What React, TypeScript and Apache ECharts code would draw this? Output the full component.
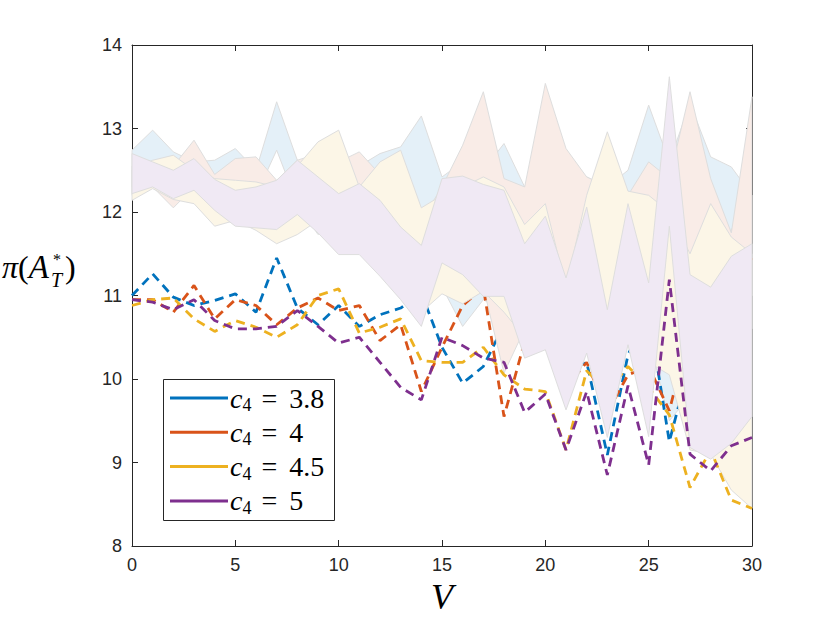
import React, { useEffect, useRef } from "react";
import * as echarts from "echarts";

// x values (V)
const V = [0, 1, 2, 3, 4, 5, 6, 7, 8, 9, 10, 11, 12, 13, 14, 15, 16, 17, 18, 19, 20, 21, 22, 23, 24, 25, 26, 27, 28, 29, 30];

// mean lines
const L38 = [11.00, 11.26, 10.98, 10.88, 10.94, 11.02, 10.80, 11.45, 10.85, 10.65, 10.88, 10.63, 10.77, 10.85, 11.03, 10.38, 9.95, 10.15, 10.65, 10.43, 10.45, 10.10, 10.20, 9.09, 10.29, 10.80, 9.25, 10.20, 10.40, 10.70, 10.90];
const L40 = [10.95, 10.95, 10.80, 11.12, 10.72, 10.95, 10.88, 10.65, 10.85, 10.97, 10.82, 10.88, 10.46, 10.65, 9.85, 10.38, 10.88, 11.10, 9.55, 10.45, 10.40, 9.90, 10.20, 9.60, 10.05, 10.15, 9.62, 10.60, 10.80, 11.20, 11.45];
const L45 = [10.88, 10.95, 10.97, 10.72, 10.57, 10.70, 10.62, 10.50, 10.65, 11.00, 11.08, 10.55, 10.62, 10.72, 10.22, 10.20, 10.20, 10.38, 10.05, 9.88, 9.85, 9.15, 10.10, 9.85, 10.15, 9.90, 9.57, 8.70, 9.15, 8.55, 8.45];
const L50 = [10.95, 10.92, 10.83, 10.95, 10.70, 10.60, 10.60, 10.63, 10.82, 10.63, 10.43, 10.50, 10.20, 9.90, 9.75, 10.50, 10.40, 10.25, 10.20, 9.60, 9.82, 9.15, 9.85, 8.85, 9.92, 8.97, 11.19, 9.10, 8.90, 9.20, 9.30];

// bands (lower / upper)
const B38_lo = [12.30, 12.40, 12.30, 12.30, 12.20, 12.20, 12.20, 12.74, 12.10, 11.73, 11.90, 11.80, 11.60, 11.50, 11.30, 11.10, 10.63, 10.95, 10.80, 10.70, 10.60, 10.40, 10.50, 10.20, 10.40, 10.50, 9.50, 9.80, 10.70, 11.80, 11.00];
const B38_hi = [12.74, 12.98, 12.72, 12.60, 12.62, 12.76, 12.50, 13.32, 12.62, 12.45, 12.50, 12.55, 12.70, 12.78, 13.15, 12.42, 12.60, 12.50, 12.82, 12.30, 12.70, 12.50, 12.42, 12.30, 12.50, 13.28, 12.60, 13.30, 12.66, 12.54, 12.20];
const B40_lo = [12.20, 12.30, 12.05, 12.30, 12.10, 12.00, 11.90, 11.90, 12.00, 11.90, 11.70, 11.60, 11.40, 11.10, 10.90, 11.20, 10.90, 11.10, 10.07, 10.60, 10.60, 10.00, 10.60, 9.90, 10.50, 11.30, 10.60, 10.50, 10.40, 10.50, 10.60];
const B40_hi = [12.55, 12.60, 12.55, 12.86, 12.45, 12.64, 12.66, 12.38, 12.62, 12.70, 12.60, 12.72, 12.45, 12.60, 11.90, 12.30, 12.80, 13.44, 12.40, 12.30, 13.54, 12.76, 12.42, 12.30, 12.20, 12.60, 12.40, 13.44, 12.40, 11.75, 13.38];
const B45_lo = [12.14, 12.28, 12.15, 12.10, 11.83, 11.90, 11.78, 11.62, 11.73, 11.90, 11.60, 11.60, 11.50, 11.20, 10.80, 11.02, 10.90, 11.05, 10.80, 10.50, 10.60, 9.90, 10.50, 9.50, 10.60, 10.20, 10.05, 9.15, 9.10, 8.67, 8.45];
const B45_hi = [12.50, 12.62, 12.68, 12.50, 12.40, 12.38, 12.36, 12.30, 12.55, 12.84, 12.98, 12.30, 12.60, 12.74, 12.05, 12.20, 12.30, 12.42, 12.30, 11.85, 12.10, 11.10, 12.20, 12.96, 12.25, 12.20, 12.00, 11.50, 12.10, 11.70, 11.50];
const B50_lo = [12.22, 12.30, 12.16, 12.26, 12.02, 11.83, 11.81, 11.79, 11.97, 11.75, 11.49, 11.49, 11.23, 10.95, 10.63, 11.39, 11.25, 10.99, 10.99, 10.25, 10.35, 9.63, 10.31, 9.30, 10.41, 9.31, 11.83, 9.18, 9.04, 9.23, 9.55];
const B50_hi = [12.70, 12.60, 12.50, 12.64, 12.39, 12.26, 12.30, 12.38, 12.62, 12.42, 12.22, 12.34, 12.14, 11.82, 11.60, 12.40, 12.43, 12.33, 12.26, 11.62, 11.95, 11.21, 12.06, 10.83, 12.10, 11.15, 13.62, 11.25, 11.10, 11.47, 11.62];

const NAMES = ["3.8", "4", "4.5", "5"];
const X_TICKS = [0, 5, 10, 15, 20, 25, 30];
const Y_TICKS = [8, 9, 10, 11, 12, 13, 14];

const LINE_COLORS = ["#0072BD", "#D95319", "#EDB120", "#7E2F8E"];
const BAND_COLORS = ["#e4f0f8", "#f9ece7", "#fcf6e7", "#f0e9f4"];
const EDGE = "#dedede";
const AX = "#262626";
const SERIF = '"Liberation Serif", "DejaVu Serif", serif';

export default function App() {
  const ref = useRef<HTMLDivElement>(null);
  useEffect(() => {
    document.body.style.margin = "0";
    if (!ref.current) return;
    const chart = echarts.init(ref.current, undefined, { renderer: "svg" });
    const lines = [L38, L40, L45, L50];
    const bands = [
      [B38_lo, B38_hi],
      [B40_lo, B40_hi],
      [B45_lo, B45_hi],
      [B50_lo, B50_hi],
    ];
    const series: any[] = [];
    for (let i = 0; i < 4; i++) {
      const [lo, hi] = bands[i];
      series.push({
        type: "custom",
        name: "band" + i,
        silent: true,
        data: V.map((v, j) => [v, lo[j], hi[j]]),
        encode: { x: 0, y: [1, 2] },
        z: 2 + 2 * i,
        renderItem: (params: any, api: any) => {
          if (params.dataIndex !== 0) return null;
          const top = V.map((v, j) => api.coord([v, hi[j]]));
          const bot = V.map((v, j) => api.coord([v, lo[j]])).reverse();
          return {
            type: "polygon",
            shape: { points: top.concat(bot) },
            style: { fill: BAND_COLORS[i], stroke: EDGE, lineWidth: 1 },
          };
        },
      });
      series.push({
        type: "line",
        name: NAMES[i],
        data: V.map((v, j) => [v, lines[i][j]]),
        symbol: "none",
        showSymbol: false,
        lineStyle: { color: LINE_COLORS[i], width: 2.8, type: [9, 6] },
        itemStyle: { color: LINE_COLORS[i] },
        z: 3 + 2 * i,
      });
    }

    const axisCommon = {
      axisLine: { show: true, onZero: false, lineStyle: { color: AX, width: 1 } },
      axisTick: { show: true, inside: true, length: 6, lineStyle: { color: AX } },
      splitLine: { show: false },
    };

    const legendTexts = NAMES.map((n, i) => ({
      type: "text",
      z: 21,
      x: 230,
      y: 398 + i * 34.3,
      style: {
        text: `{cc|c}{sb|4}{eq|=}{nv|${n}}`,
        verticalAlign: "middle",
        rich: {
          cc: { fontFamily: SERIF, fontStyle: "italic", fontSize: 28, lineHeight: 32, fill: "#000" },
          sb: { fontFamily: SERIF, fontSize: 18, lineHeight: 20, verticalAlign: "bottom", fill: "#000" },
          eq: { fontFamily: SERIF, fontSize: 28, lineHeight: 32, padding: [0, 12, 0, 10], fill: "#000" },
          nv: { fontFamily: SERIF, fontSize: 28, lineHeight: 32, fill: "#000" },
        },
      },
    }));

    chart.setOption({
      animation: false,
      grid: { left: 132, right: 78, top: 45, bottom: 77, containLabel: false },
      xAxis: [
        {
          type: "value",
          min: X_TICKS[0],
          max: X_TICKS[X_TICKS.length - 1],
          interval: 5,
          position: "bottom",
          ...axisCommon,
          axisLabel: { color: AX, fontSize: 18, fontFamily: "Liberation Sans", margin: 10 },
          name: "V",
          nameLocation: "middle",
          nameGap: 30,
          nameTextStyle: { fontFamily: SERIF, fontStyle: "italic", fontSize: 36, color: "#000" },
        },
        {
          type: "value",
          min: X_TICKS[0],
          max: X_TICKS[X_TICKS.length - 1],
          interval: 5,
          position: "top",
          ...axisCommon,
          axisLabel: { show: false },
        },
      ],
      yAxis: [
        {
          type: "value",
          min: Y_TICKS[0],
          max: Y_TICKS[Y_TICKS.length - 1],
          interval: 1,
          position: "left",
          ...axisCommon,
          axisLabel: { color: AX, fontSize: 18, fontFamily: "Liberation Sans", margin: 10 },
        },
        {
          type: "value",
          min: Y_TICKS[0],
          max: Y_TICKS[Y_TICKS.length - 1],
          interval: 1,
          position: "right",
          ...axisCommon,
          axisLabel: { show: false },
        },
      ],
      legend: {
        data: NAMES.map((n, i) => ({ name: n, icon: "rect", itemStyle: { color: LINE_COLORS[i] } })),
        orient: "vertical",
        left: 170,
        top: 383,
        itemWidth: 58,
        itemHeight: 3,
        itemGap: 4.3,
        selectedMode: false,
        z: 20,
        padding: 0,
        formatter: () => " ",
        textStyle: { fontSize: 12, lineHeight: 30 },
      },
      graphic: [
        {
          type: "rect",
          z: 19,
          shape: { x: 163.5, y: 379.5, width: 171, height: 141 },
          style: { fill: "#fff", stroke: AX, lineWidth: 1 },
        },
        ...legendTexts,
        {
          type: "text",
          x: 2,
          y: 267,
          style: {
            text: "{p|π}{o|(}{a|A}",
            verticalAlign: "middle",
            rich: {
              p: { fontFamily: SERIF, fontStyle: "italic", fontSize: 32, fill: "#000" },
              o: { fontFamily: SERIF, fontSize: 32, fill: "#000" },
              a: { fontFamily: SERIF, fontStyle: "italic", fontSize: 33, fill: "#000" },
            },
          },
        },
        { type: "text", x: 53, y: 259, style: { text: "*", font: '16px "Liberation Serif"', fill: "#000", verticalAlign: "middle" } },
        { type: "text", x: 51, y: 279.5, style: { text: "T", font: 'italic 20px "Liberation Serif"', fill: "#000", verticalAlign: "middle" } },
        { type: "text", x: 65, y: 267, style: { text: ")", font: '32px "Liberation Serif"', fill: "#000", verticalAlign: "middle" } },
      ],
      series,
    });
    return () => chart.dispose();
  }, []);
  return <div ref={ref} style={{ width: 830, height: 623 }} />;
}
